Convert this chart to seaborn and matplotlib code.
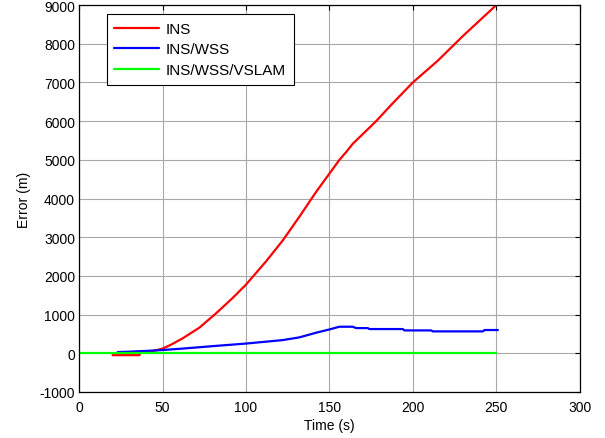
import numpy as np
import pandas as pd
import matplotlib
matplotlib.use("Agg")
import matplotlib.pyplot as plt
import seaborn as sns

# Values
ins_time = [20, 36, 37, 40, 45, 50, 55, 62, 72, 82, 92, 100, 112, 122, 132,
            142, 150, 156, 160, 164, 178, 188, 200, 215, 230, 250]
ins_err = [-50, -50, 20, 35, 65, 120, 220, 385, 660, 1030, 1430, 1775, 2375,
           2915, 3530, 4170, 4645, 5000, 5200, 5415, 6000, 6465, 7000, 7565,
           8200, 9000]

wss_time = [23, 30, 40, 48, 62, 72, 82, 100, 122, 132, 142, 150, 156, 164,
            166, 173, 174, 194, 195, 211, 212, 242, 243, 251]
wss_err = [30, 40, 60, 77, 120, 155, 190, 250, 340, 410, 530, 615, 685, 685,
           650, 650, 625, 625, 590, 590, 565, 565, 600, 600]

vslam_time = [0, 250]
vslam_err = [0, 0]

x_ticks = [0, 50, 100, 150, 200, 250, 300]
y_ticks = [-1000, 0, 1000, 2000, 3000, 4000, 5000, 6000, 7000, 8000, 9000]

sns.set_style("white")
plt.rcParams['font.family'] = ['Liberation Sans', 'DejaVu Sans']
plt.rcParams.update({
    'font.size': 10,
    'text.color': 'black',
    'axes.labelcolor': 'black',
    'axes.unicode_minus': False,
})

fig = plt.figure(figsize=(6.05, 4.39), dpi=100)
ax = fig.add_axes([0.131, 0.105, 0.827, 0.881])

sns.lineplot(x=ins_time, y=ins_err, ax=ax, color='#ff0000', linewidth=1.6,
             label='INS', sort=False, estimator=None)
sns.lineplot(x=wss_time, y=wss_err, ax=ax, color='#0000ff', linewidth=1.6,
             label='INS/WSS', sort=False, estimator=None)
sns.lineplot(x=vslam_time, y=vslam_err, ax=ax, color='#00ff00', linewidth=1.6,
             label='INS/WSS/VSLAM', sort=False, estimator=None)

ax.set_xlim(0, 300)
ax.set_ylim(-1000, 9000)
ax.set_xticks(x_ticks)
ax.set_yticks(y_ticks)
ax.grid(True, color='#a8a8a8', linewidth=0.8)
ax.set_axisbelow(True)
ax.tick_params(direction='in', top=True, right=True, length=3.5, width=0.8,
               labelsize=10, colors='black')
ax.tick_params(axis='x', pad=6)
ax.tick_params(axis='y', pad=3)
for s in ax.spines.values():
    s.set_visible(True)
    s.set_color('black')
    s.set_linewidth(0.9)

ax.set_xlabel('Time (s)', fontsize=10, labelpad=3)
ax.set_ylabel('Error (m)', fontsize=10, labelpad=6)

leg = ax.legend(loc='upper left', bbox_to_anchor=(0.055, 0.976),
                fontsize=11, frameon=True, fancybox=False, framealpha=1,
                edgecolor='black', handlelength=2.95, borderpad=0.5,
                labelspacing=0.42, handletextpad=0.42, borderaxespad=0)
leg.get_frame().set_linewidth(0.8)
for t in leg.get_texts():
    t.set_color('black')

fig.savefig('out.png', dpi=100)
